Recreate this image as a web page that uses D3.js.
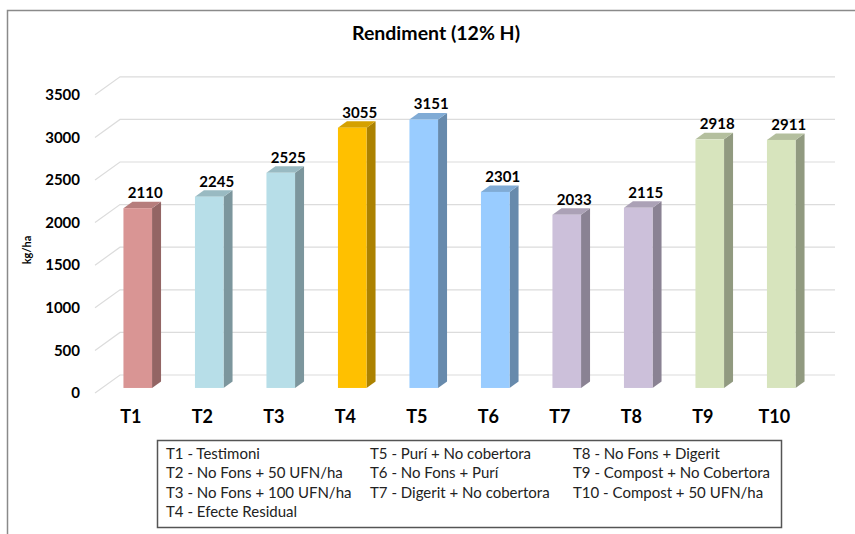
<!DOCTYPE html>
<html>
<head>
<meta charset="utf-8">
<script src="https://cdn.jsdelivr.net/npm/d3@7"></script>
<style>
  html, body { margin: 0; padding: 0; background: #fff; }
  text { font-family: Lato, "Open Sans", sans-serif; }
</style>
</head>
<body>
<div class="chart"></div>
<script>
// data
var categories = ["T1", "T2", "T3", "T4", "T5", "T6", "T7", "T8", "T9", "T10"];
var values = [2110, 2245, 2525, 3055, 3151, 2301, 2033, 2115, 2918, 2911];
var frontColors = ["#D99594", "#B7DEE8", "#B7DEE8", "#FFC000", "#99CCFF", "#99CCFF", "#CCC0DA", "#CCC0DA", "#D7E4BD", "#D7E4BD"];
var yTicks = [0, 500, 1000, 1500, 2000, 2500, 3000, 3500];
var legendCol1 = ["T1 - Testimoni", "T2 - No Fons + 50 UFN/ha", "T3 - No Fons + 100 UFN/ha", "T4 - Efecte Residual"];
var legendCol2 = ["T5 - Purí + No cobertora", "T6 - No Fons + Purí", "T7 - Digerit + No cobertora"];
var legendCol3 = ["T8 - No Fons + Digerit", "T9 - Compost + No Cobertora", "T10 - Compost + 50 UFN/ha"];

var width = 855, height = 534;

// 3d depth offset (front plane -> back wall)
var depthX = 25, depthY = -18;
var barFront = 0.28, barBack = 0.64;

var svg = d3.select("div.chart")
    .append("svg")
    .attr("width", width)
    .attr("height", height);

// outer frame
svg.append("path")
    .attr("d", "M7.5," + height + "V10.5H" + width)
    .attr("fill", "none")
    .attr("stroke", "#8a8a8a")
    .attr("stroke-width", 1.5);

// title
svg.append("text")
    .attr("x", 436)
    .attr("y", 40)
    .attr("text-anchor", "middle")
    .style("font-size", "19.5px")
    .style("font-weight", "bold")
    .text("Rendiment (12% H)");

// scales on the front plane
var x = d3.scaleBand()
    .domain(categories)
    .range([95, 810])
    .paddingInner(0)
    .paddingOuter(0);

var y = d3.scaleLinear()
    .domain([0, 3500])
    .range([393, 94.8]);

// gridlines: side wall diagonal + back wall line
var grid = svg.append("g").attr("class", "grid");
yTicks.forEach(function (t) {
    var yf = y(t);
    grid.append("path")
        .attr("d", "M" + x.range()[0] + "," + yf +
            "L" + (x.range()[0] + depthX) + "," + (yf + depthY) +
            "H" + (x.range()[1] + depthX))
        .attr("fill", "none")
        .attr("stroke", "#dcdcdc")
        .attr("stroke-width", 1.2);
});

// y tick labels
svg.append("g")
    .selectAll("text")
    .data(yTicks)
    .enter().append("text")
    .attr("x", 80)
    .attr("y", function (d) { return y(d); })
    .attr("dy", "0.35em")
    .attr("text-anchor", "end")
    .style("font-size", "15px")
    .style("font-weight", "bold")
    .text(function (d) { return d; });

// y axis title
svg.append("text")
    .attr("transform", "translate(31,250) rotate(-90)")
    .attr("text-anchor", "middle")
    .style("font-size", "11px")
    .style("font-weight", "bold")
    .text("kg/ha");

// bars
var barW = x.bandwidth() * 0.4;
var bars = svg.append("g").attr("class", "bars")
    .selectAll("g")
    .data(values)
    .enter().append("g");

function face(d, i) {
    var x0 = x(categories[i]) + (x.bandwidth() - barW) / 2 + depthX * barFront;
    var yb = y(0) + depthY * barFront;
    var yt = y(d) + depthY * barFront;
    var dx = depthX * (barBack - barFront), dy = depthY * (barBack - barFront);
    return {x0: x0, x1: x0 + barW, yb: yb, yt: yt, dx: dx, dy: dy};
}

// side face
bars.append("path")
    .attr("d", function (d, i) {
        var f = face(d, i);
        return "M" + f.x1 + "," + f.yb + "L" + (f.x1 + f.dx) + "," + (f.yb + f.dy) +
            "L" + (f.x1 + f.dx) + "," + (f.yt + f.dy) + "L" + f.x1 + "," + f.yt + "Z";
    })
    .attr("fill", function (d, i) { return d3.color(frontColors[i]).darker(1.1); });

// top face
bars.append("path")
    .attr("d", function (d, i) {
        var f = face(d, i);
        return "M" + f.x0 + "," + f.yt + "L" + (f.x0 + f.dx) + "," + (f.yt + f.dy) +
            "L" + (f.x1 + f.dx) + "," + (f.yt + f.dy) + "L" + f.x1 + "," + f.yt + "Z";
    })
    .attr("fill", function (d, i) { return d3.color(frontColors[i]).darker(0.5); });

// front face
bars.append("rect")
    .attr("x", function (d, i) { return face(d, i).x0; })
    .attr("y", function (d, i) { return face(d, i).yt; })
    .attr("width", barW)
    .attr("height", function (d, i) { var f = face(d, i); return f.yb - f.yt; })
    .attr("fill", function (d, i) { return frontColors[i]; });

// value labels
bars.append("text")
    .attr("x", function (d, i) { var f = face(d, i); return (f.x0 + f.x1) / 2 + 7.5; })
    .attr("y", function (d, i) { return face(d, i).yt - 10; })
    .attr("text-anchor", "middle")
    .style("font-size", "15px")
    .style("font-weight", "bold")
    .text(function (d) { return d; });

// x labels
svg.append("g")
    .selectAll("text")
    .data(categories)
    .enter().append("text")
    .attr("x", function (d) { return x(d) + x.bandwidth() / 2; })
    .attr("y", 423)
    .attr("text-anchor", "middle")
    .style("font-size", "18px")
    .style("font-weight", "bold")
    .text(function (d) { return d; });

// legend box
var legend = svg.append("g").attr("class", "legend");
legend.append("rect")
    .attr("x", 157.5)
    .attr("y", 440.5)
    .attr("width", 624)
    .attr("height", 87)
    .attr("fill", "#fff")
    .attr("stroke", "#555")
    .attr("stroke-width", 1.5);

[[legendCol1, 166], [legendCol2, 370], [legendCol3, 573]].forEach(function (col) {
    legend.selectAll(null)
        .data(col[0])
        .enter().append("text")
        .attr("x", col[1])
        .attr("y", function (d, i) { return 459 + i * 19.3; })
        .style("font-size", "15px")
        .style("fill", "#222")
        .text(function (d) { return d; });
});
</script>
</body>
</html>
